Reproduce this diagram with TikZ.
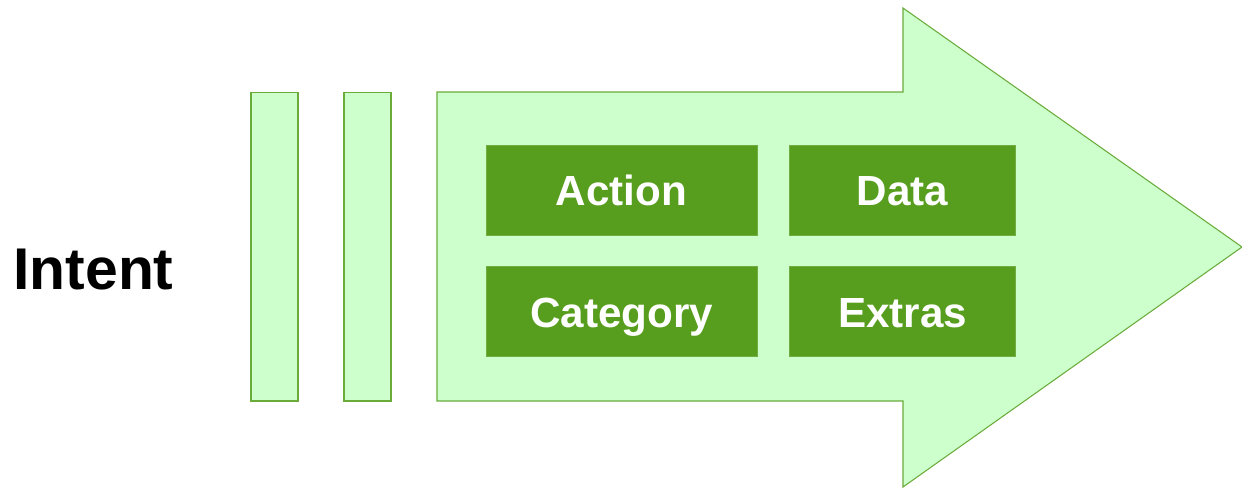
\documentclass[tikz,border=0pt]{standalone}
\usepackage{fontspec}
\setmainfont{Liberation Sans}
\usepackage{tikz}
\usetikzlibrary{positioning}
\definecolor{pale}{HTML}{CCFFCC}
\definecolor{edge}{HTML}{6AAB3A}
\definecolor{leaf}{HTML}{589E1E}

\begin{document}
\begin{tikzpicture}[x=0.02cm, y=-0.02cm,
  bar/.style={rectangle, draw=edge, fill=pale, line width=0.6pt,
              minimum width=0.94cm, minimum height=6.18cm, inner sep=0pt},
  field/.style={rectangle, fill=leaf, draw=leaf!85!white, line width=0.4pt,
                minimum height=1.8cm, inner sep=0pt, text=white,
                text height=18pt, text depth=0pt,
                font=\fontsize{24}{28}\selectfont\bfseries},
  title/.style={font=\fontsize{33.5}{38}\selectfont\bfseries, inner sep=0pt}]

  \useasboundingbox (0,0) rectangle (1242,488);
  % label
  \node[title, anchor=west] (intent) at (13,270) {Intent};
  % two bars
  \node[bar] (bar1) at (274.5,246.5) {};
  \node[bar] (bar2) at (367.5,246.5) {};
  % big arrow
  \draw[draw=edge, fill=pale, line width=0.6pt, line join=miter]
    (437,92) -- (903,92) -- (903,8) -- (1242,247) -- (903,487)
    -- (903,401) -- (437,401) -- cycle;
  % fields
  \node[field, minimum width=5.42cm] (action) at (621.5,190) {Action};
  \node[field, minimum width=4.52cm, right=0.64cm of action] (data) {Data};
  \node[field, minimum width=5.42cm, below=0.62cm of action] (cat) {Category};
  \node[field, minimum width=4.52cm, right=0.64cm of cat] (extras) {Extras};
\end{tikzpicture}
\end{document}
